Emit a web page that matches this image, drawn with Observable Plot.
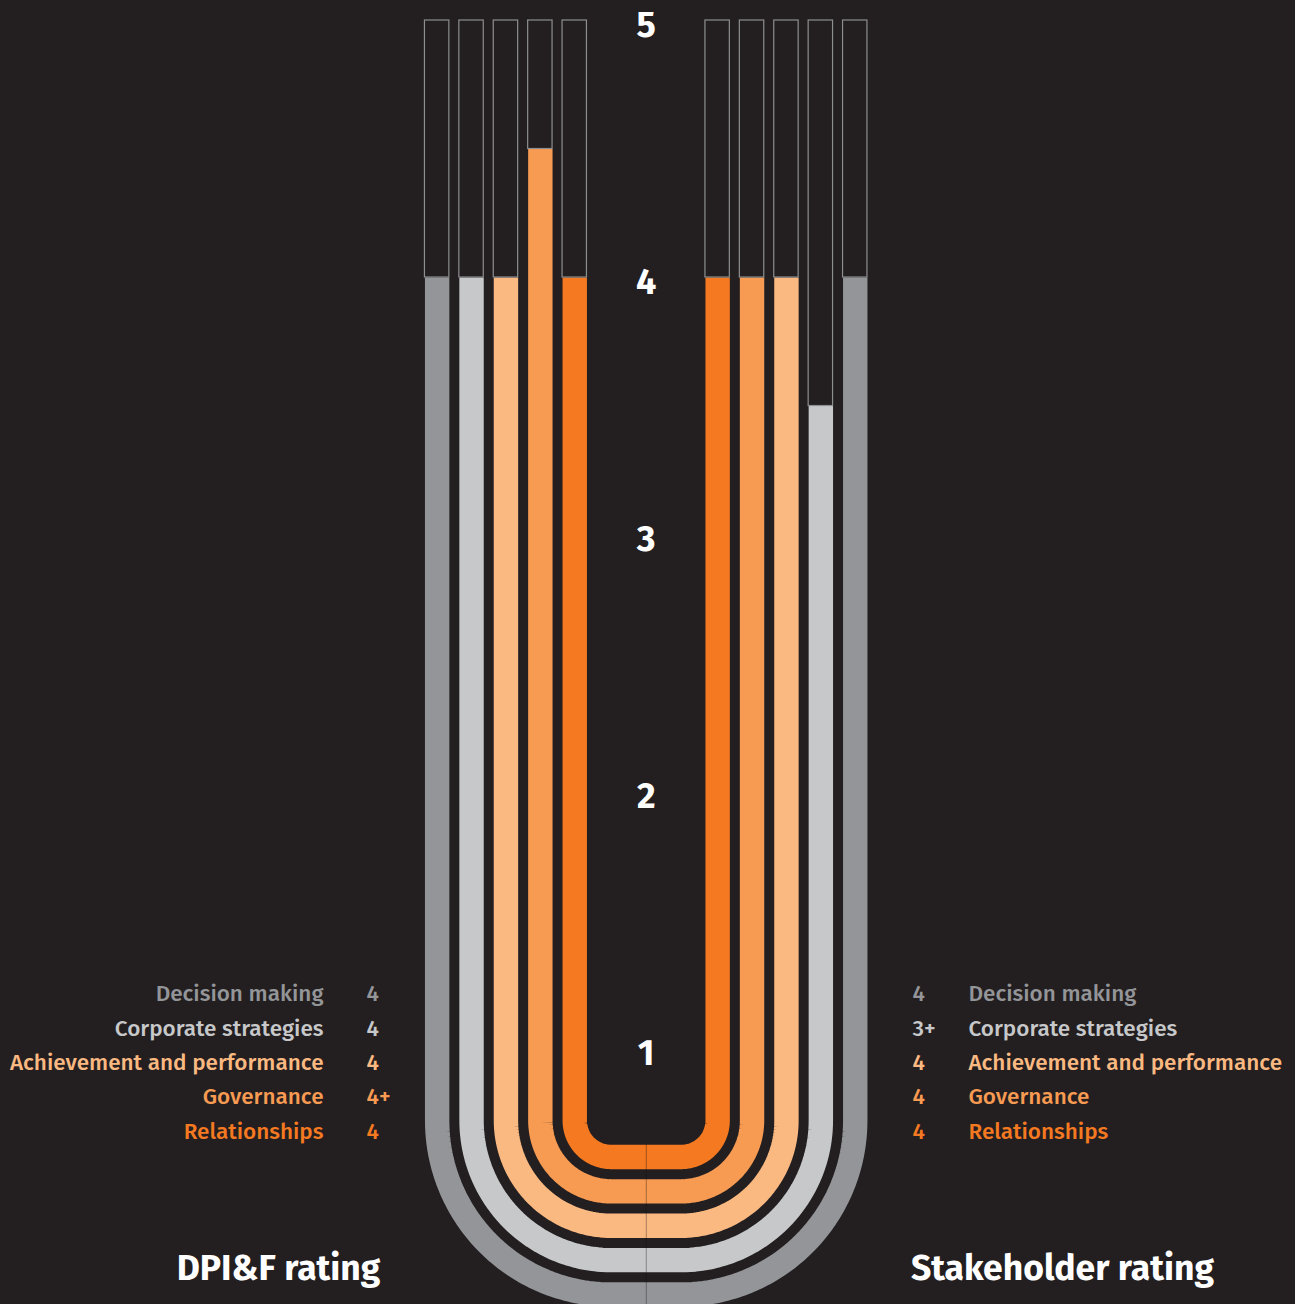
<!DOCTYPE html>
<html>
<head>
<meta charset="utf-8">
<script src="https://cdn.jsdelivr.net/npm/d3@7"></script>
<script src="https://cdn.jsdelivr.net/npm/@observablehq/plot@0.6"></script>
<style>
  html, body { margin: 0; padding: 0; background: #231f20; }
  #chart svg { display: block; }
</style>
</head>
<body>
<div id="chart"></div>
<script>
// ---------- data ----------
const categories = ["Decision making", "Corporate strategies", "Achievement and performance", "Governance", "Relationships"];
const dpiRatings = [4, 4, 4, 4.5, 4];
const dpiLabels = ["4", "4", "4", "4+", "4"];
const stakeholderRatings = [4, 3.5, 4, 4, 4];
const stakeholderLabels = ["4", "3+", "4", "4", "4"];
const scaleTicks = [1, 2, 3, 4, 5];
const sideTitles = ["DPI&F rating", "Stakeholder rating"];
const palette = ["#939598", "#c7c8ca", "#fbb982", "#f79a52", "#f47920"];

// ---------- layout (pixels) ----------
const W = 1295, H = 1304;
const CX = 645.7, PITCH = 34.4, BAR_W = 24.4, INNER = 71.45;
const CORNER_DX = 35, CORNER_Y = 1120, TOP = 20, UNIT = 257;
const ux = px => (px - CX) / PITCH;
const uy = py => 5 - (py - TOP) / UNIT;
const FONT = "'Fira Sans', 'Open Sans', sans-serif";

// ---------- derived geometry ----------
const bands = [];
const boxes = [];
categories.forEach((cat, i) => {
  const ring = categories.length - 1 - i;
  const offPx = INNER + ring * PITCH;
  const r = offPx - CORNER_DX;
  const hw = BAR_W / 2 / PITCH;
  [[-1, dpiRatings[i]], [1, stakeholderRatings[i]]].forEach(([side, v]) => {
    const key = cat + side;
    const s = side * offPx / PITCH;
    bands.push({key, cat, x: s, y: v});
    const N = 48;
    for (let k = 0; k <= N; k++) {
      const phi = k / N * Math.PI / 2;
      bands.push({key, cat,
        x: ux(CX + side * (CORNER_DX + r * Math.cos(phi))),
        y: uy(CORNER_Y + r * Math.sin(phi))});
    }
    bands.push({key, cat, x: 0, y: uy(CORNER_Y + r)});
    if (v < 5) boxes.push({cat, x1: s - hw, x2: s + hw, y1: v, y2: 5});
  });
});

const rows = categories.map((cat, i) => ({
  cat, dpi: dpiLabels[i], st: stakeholderLabels[i], y: uy(993.5 + i * PITCH)
}));
const titles = sideTitles.map((t, i) => ({t, x: ux(i === 0 ? 278 : 1062), y: uy(1268)}));

const chart = Plot.plot({
  width: W,
  height: H,
  margin: 0,
  style: {background: "#231f20", fontFamily: FONT},
  x: {domain: [ux(0), ux(W)], range: [0, W], axis: null},
  y: {domain: [0, 5], range: [TOP + 5 * UNIT, TOP], axis: null},
  color: {domain: categories, range: palette},
  marks: [
    Plot.line(bands, {x: "x", y: "y", z: "key", stroke: "cat", strokeWidth: BAR_W, strokeLinecap: "butt", strokeLinejoin: "round", curve: "linear"}),
    Plot.ruleX([0], {y1: uy(1144), y2: 0, stroke: "#000", strokeOpacity: 0.22, strokeWidth: 1}),
    Plot.rect(boxes, {x1: "x1", x2: "x2", y1: "y1", y2: "y2", fill: "none", stroke: "#8d8e90", strokeWidth: 1.2}),
    Plot.text(scaleTicks, {x: 0, y: d => d, text: d => String(d), fill: "#ffffff", fontSize: 36, fontWeight: "bold", dy: 5}),
    Plot.text(rows, {x: ux(323), y: "y", text: "cat", fill: "cat", textAnchor: "end", fontSize: 22.5, fontWeight: 500}),
    Plot.text(rows, {x: ux(366), y: "y", text: "dpi", fill: "cat", textAnchor: "start", fontSize: 22.5, fontWeight: 500}),
    Plot.text(rows, {x: ux(912), y: "y", text: "st", fill: "cat", textAnchor: "start", fontSize: 22.5, fontWeight: 500}),
    Plot.text(rows, {x: ux(968), y: "y", text: "cat", fill: "cat", textAnchor: "start", fontSize: 22.5, fontWeight: 500}),
    Plot.text(titles, {x: "x", y: "y", text: "t", fill: "#ffffff", fontSize: 35.5, fontWeight: "bold"})
  ]
});
document.getElementById("chart").appendChild(chart);
</script>
</body>
</html>
